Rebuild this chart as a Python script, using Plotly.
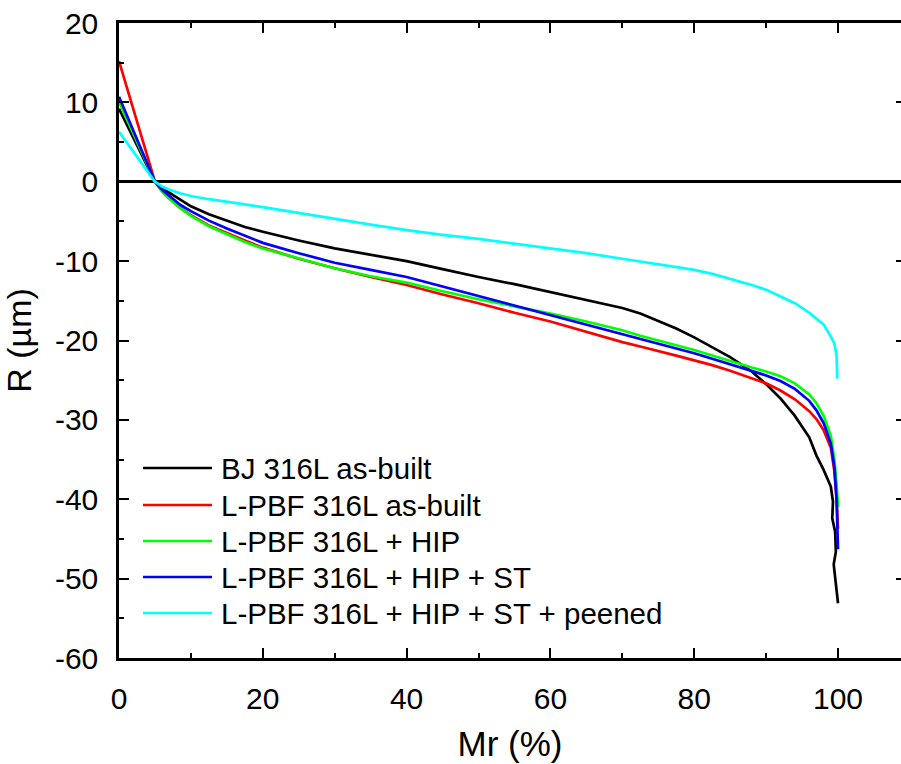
import plotly.graph_objects as go

# Bearing (Abbott-Firestone) curves: material ratio Mr (%) vs profile height R (µm)
mr = [0, 5, 6, 7, 8.5, 10, 12.5, 15, 17.5, 20, 25, 30, 35, 40, 45, 50, 55, 60, 65, 70,
      72.5, 75, 77.5, 80, 82.5, 85, 88, 90, 92, 94, 96, 97, 98, 99, 99.5, 99.8, 100]

r_bj_asbuilt = [9.2, 0, -0.8, -1.4, -2.3, -3.1, -4.1, -4.9, -5.7, -6.3, -7.4, -8.4, -9.2,
                -10.0, -11.0, -12.0, -12.9, -13.9, -14.9, -15.9, -16.6, -17.5, -18.5,
                -19.6, -20.8, -22.1, -23.9, -25.5, -27.3, -29.5, -32.2, -34.5, -36.3,
                -38.4, None, None, None]
# deep-valley tail of the BJ profile (wavy end segment)
mr_bj_tail = [99, 99.3, 99.2, 99.6, 99.7, 99.4, 99.8, 100]
r_bj_tail = [-38.4, -40.3, -42.4, -44.1, -46.6, -48.2, -51.3, -53.1]

r_lpbf_asbuilt = [15.2, 0, -1.2, -2.1, -3.3, -4.2, -5.5, -6.5, -7.4, -8.3, -9.7, -10.9,
                  -12.0, -13.0, -14.2, -15.3, -16.5, -17.6, -18.9, -20.2, -20.75, -21.3,
                  -21.9, -22.5, -23.1, -23.8, -24.7, -25.4, -26.3, -27.4, -28.9, -29.9,
                  -31.3, -33.5, -36.5, -40.0, -43.7]

r_lpbf_hip = [10.1, 0, -1.2, -2.1, -3.3, -4.3, -5.6, -6.6, -7.6, -8.4, -9.7, -10.9, -11.9,
              -12.7, -13.8, -14.8, -15.7, -16.6, -17.6, -18.7, -19.4, -20.0, -20.6,
              -21.2, -21.9, -22.6, -23.4, -23.9, -24.5, -25.4, -26.8, -27.9, -29.5,
              -32.0, -35.0, -38.0, -41.0]

r_lpbf_hip_st = [10.7, 0, -1.0, -1.8, -2.9, -3.7, -4.9, -5.9, -6.8, -7.7, -9.0, -10.2,
                 -11.1, -12.0, -13.2, -14.4, -15.6, -16.8, -18.0, -19.2, -19.8, -20.4,
                 -21.0, -21.6, -22.3, -23.0, -23.8, -24.4, -25.1, -26.1, -27.6, -28.8,
                 -30.4, -33.0, -36.0, -40.0, -46.3]

mr_peened = [0, 5, 6, 7, 8.5, 10, 12.5, 15, 17.5, 20, 25, 30, 35, 40, 45, 50, 55, 60, 65,
             70, 75, 80, 82.5, 85, 88, 90, 92, 94, 96, 97, 98, 99, 99.5, 99.8, 99.9]
r_peened = [6.3, 0, -0.6, -1.0, -1.45, -1.8, -2.2, -2.5, -2.85, -3.2, -3.95, -4.7, -5.4,
            -6.1, -6.7, -7.2, -7.8, -8.4, -9.0, -9.7, -10.4, -11.1, -11.6, -12.2, -13.0,
            -13.6, -14.4, -15.3, -16.5, -17.2, -18.0, -19.5, -20.4, -22.0, -24.8]

series_names = ["BJ 316L as-built", "L-PBF 316L as-built", "L-PBF 316L + HIP",
                "L-PBF 316L + HIP + ST", "L-PBF 316L + HIP + ST + peened"]
series_colors = ["#000000", "#ff0000", "#00ff00", "#0000ff", "#00ffff"]

x_ticks = [0, 20, 40, 60, 80, 100]
y_ticks = [20, 10, 0, -10, -20, -30, -40, -50, -60]

FONT = "Liberation Sans, Arial, sans-serif"
LW = 2.7

bj_x = [m for m, v in zip(mr, r_bj_asbuilt) if v is not None] + mr_bj_tail[1:]
bj_y = [v for v in r_bj_asbuilt if v is not None] + r_bj_tail[1:]

curves = [
    (bj_x, bj_y),
    (mr, r_lpbf_asbuilt),
    (mr, r_lpbf_hip),
    (mr, r_lpbf_hip_st),
    (mr_peened, r_peened),
]

fig = go.Figure()
for (xs, ys), name, col in zip(curves, series_names, series_colors):
    fig.add_trace(go.Scatter(x=xs, y=ys, mode="lines", name=name, showlegend=False,
                             line=dict(color=col, width=LW)))

# placeholder trace so the right-hand tick axis is drawn
fig.add_trace(go.Scatter(x=[None], y=[None], yaxis="y2", showlegend=False, hoverinfo="skip"))

# plot-area geometry (px)
W, H = 901, 764
ML, MR, MT, MB = 119, 0, 23, 106
PW, PH = W - ML - MR, H - MT - MB


def px_to_paper(px, py):
    return (px - ML) / PW, (H - MB - py) / PH


# hand-built legend with long line keys
legend_rows = [468, 505, 541, 577, 613]
shapes = []
annotations = []
for name, col, row in zip(series_names, series_colors, legend_rows):
    x0, y0 = px_to_paper(143, row)
    x1, _ = px_to_paper(212, row)
    shapes.append(dict(type="line", xref="paper", yref="paper", x0=x0, x1=x1, y0=y0, y1=y0,
                       line=dict(color=col, width=LW)))
    tx, ty = px_to_paper(219, row)
    annotations.append(dict(x=tx, y=ty, xref="paper", yref="paper", text=name,
                            showarrow=False, xanchor="left", yanchor="middle",
                            font=dict(family=FONT, size=29.5, color="#000")))

axis_common = dict(
    showline=True, linecolor="#000", linewidth=2.5,
    ticks="inside", ticklen=10, tickwidth=2, tickcolor="#000",
    showgrid=False,
    tickfont=dict(family=FONT, size=30, color="#000"),
)

fig.update_layout(
    width=W, height=H,
    margin=dict(l=ML, r=MR, t=MT, b=MB, pad=0),
    paper_bgcolor="white", plot_bgcolor="white",
    showlegend=False,
    shapes=shapes,
    annotations=annotations,
    xaxis=dict(
        range=[0, 108.76], tickvals=x_ticks, ticktext=[str(v) for v in x_ticks],
        mirror="ticks", zeroline=False,
        minor=dict(dtick=10, ticks="inside", ticklen=5, tickwidth=2, tickcolor="#000"),
        title=dict(text="Mr (%)", font=dict(family=FONT, size=35, color="#000"), standoff=18),
        ticklabelstandoff=12,
        **axis_common,
    ),
    yaxis=dict(
        range=[-60, 20], tickvals=y_ticks, ticktext=[str(v) for v in y_ticks],
        zeroline=True, zerolinecolor="#000", zerolinewidth=2.5,
        minor=dict(dtick=5, ticks="inside", ticklen=5, tickwidth=2, tickcolor="#000"),
        title=dict(text="R (µm)", font=dict(family=FONT, size=34, color="#000"), standoff=14),
        ticklabelstandoff=12,
        **axis_common,
    ),
    yaxis2=dict(
        range=[-60, 20], overlaying="y", side="right", anchor="x",
        showline=False, showgrid=False, zeroline=False, showticklabels=False,
        tickvals=y_ticks, ticks="inside", ticklen=5, tickwidth=2, tickcolor="#000",
    ),
)

fig.write_html("out.html")
